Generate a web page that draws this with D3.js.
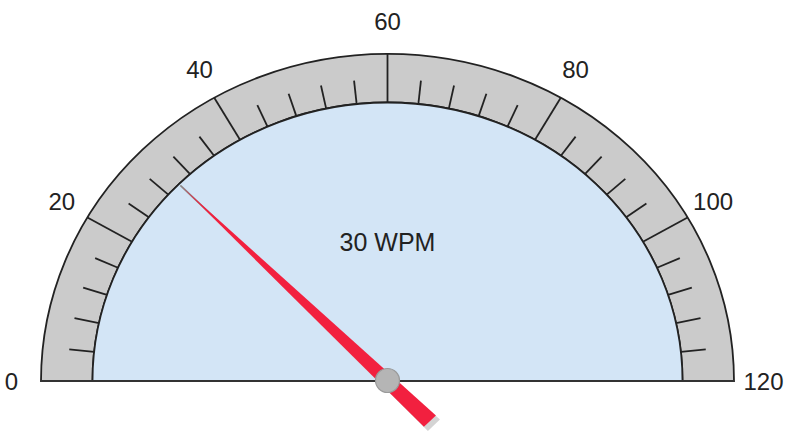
<!DOCTYPE html>
<meta charset="utf-8">
<style>
body { margin: 0; background: #fff; }
text { font-family: Arial, "Liberation Sans", sans-serif; fill: #222; }
.edge { fill: none; stroke: #222; stroke-width: 1.8px; vector-effect: non-scaling-stroke; }
</style>
<body>
<script src="https://d3js.org/d3.v7.min.js"></script>
<script>

const width = 792;
const height = 432;

// gauge data
const minValue = 0;
const maxValue = 120;
const majorTicks = [0, 20, 40, 60, 80, 100, 120];
const minorStep = 4;
const value = 30;
const unit = "WPM";

const cx = 387.5, cy = 381;
const ky = 0.944;             // the picture is a bit squashed vertically
const rInner = 295, rOuter = 346.5, rMinor = 320;
const labelRx = 376, labelRy = 360;

const angle = d3.scaleLinear()
    .domain([minValue, maxValue])
    .range([-Math.PI / 2, Math.PI / 2]);

const minorTicks = d3.range(minValue, maxValue, minorStep)
    .filter(v => !majorTicks.includes(v));

const svg = d3.select("body").append("svg")
    .attr("width", width)
    .attr("height", height);

const g = svg.append("g")
    .attr("transform", `translate(${cx}, ${cy}) scale(1, ${ky})`);

const half = d3.arc()
    .startAngle(angle(minValue))
    .endAngle(angle(maxValue));

// grey band
g.append("path")
    .attr("d", half.innerRadius(rInner).outerRadius(rOuter)())
    .attr("class", "edge")
    .style("fill", "#cbcbcb");

// face
g.append("path")
    .attr("d", half.innerRadius(0).outerRadius(rInner)())
    .attr("class", "edge")
    .style("fill", "#d3e5f6");

const px = (v, r) => r * Math.sin(angle(v));
const py = (v, r) => -r * Math.cos(angle(v));

g.selectAll(".major")
    .data(majorTicks)
  .enter().append("line")
    .attr("class", "edge major")
    .attr("x1", d => px(d, rInner))
    .attr("y1", d => py(d, rInner))
    .attr("x2", d => px(d, rOuter))
    .attr("y2", d => py(d, rOuter));

g.selectAll(".minor")
    .data(minorTicks)
  .enter().append("line")
    .attr("class", "edge minor")
    .attr("x1", d => px(d, rInner))
    .attr("y1", d => py(d, rInner))
    .attr("x2", d => px(d, rMinor))
    .attr("y2", d => py(d, rMinor));

// base line
g.append("line")
    .attr("x1", -rOuter).attr("x2", rOuter)
    .attr("y1", 0).attr("y2", 0)
    .style("stroke", "#333")
    .style("stroke-width", "2px")
    .style("vector-effect", "non-scaling-stroke");

// needle
const tipR = 293, tailR = -60, tailW = 8.5, redEnd = 292;
const a = angle(value);
const ux = Math.sin(a), uy = -Math.cos(a);
const nx = -uy, ny = ux;
const needle = [
  [ux * redEnd, uy * redEnd],
  [ux * tailR + nx * tailW, uy * tailR + ny * tailW],
  [ux * tailR - nx * tailW, uy * tailR - ny * tailW]
];

g.append("polygon")
    .attr("points", needle.map(p => [p[0] + 4, p[1] + 4.5]).join(" "))
    .attr("fill", "#d4d4d4");

g.append("line")
    .attr("x1", 0).attr("y1", 0)
    .attr("x2", ux * tipR).attr("y2", uy * tipR)
    .style("stroke", "#8a8a8a")
    .style("stroke-width", "1.8px")
    .style("vector-effect", "non-scaling-stroke");

g.append("polygon")
    .attr("points", needle.join(" "))
    .attr("fill", "#f2203f");

// cap
svg.append("circle")
    .attr("cx", cx).attr("cy", cy - 0.5)
    .attr("r", 12)
    .attr("fill", "#b5b5b5")
    .attr("stroke", "#9a9a9a")
    .attr("stroke-width", 1.2);

// labels
svg.selectAll(".label")
    .data(majorTicks)
  .enter().append("text")
    .attr("class", "label")
    .attr("x", d => cx + labelRx * Math.sin(angle(d)))
    .attr("y", d => cy - labelRy * Math.cos(angle(d)))
    .attr("text-anchor", "middle")
    .attr("dominant-baseline", "central")
    .style("font-size", "24px")
    .text(d => d);

svg.append("text")
    .attr("x", cx)
    .attr("y", 242)
    .attr("text-anchor", "middle")
    .attr("dominant-baseline", "central")
    .style("font-size", "25px")
    .text(`${value} ${unit}`);

</script>
